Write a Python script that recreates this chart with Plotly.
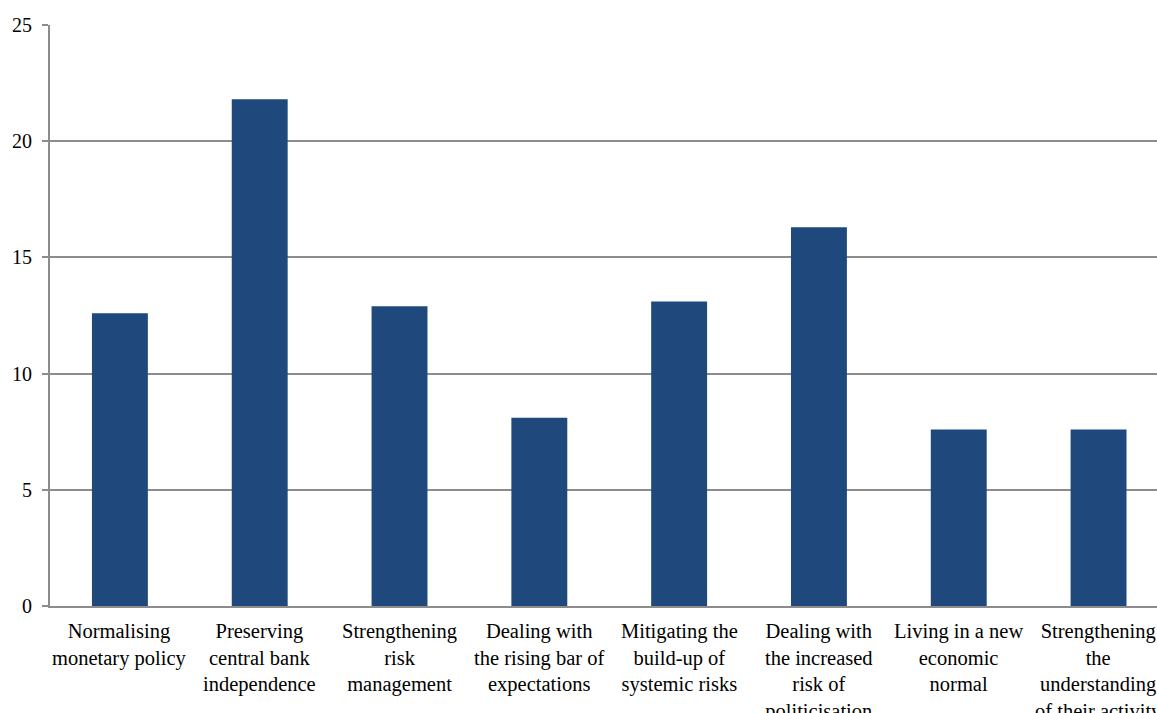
import plotly.graph_objects as go

categories = [
    "Normalising<br>monetary policy",
    "Preserving<br>central bank<br>independence",
    "Strengthening<br>risk<br>management",
    "Dealing with<br>the rising bar of<br>expectations",
    "Mitigating the<br>build-up of<br>systemic risks",
    "Dealing with<br>the increased<br>risk of<br>politicisation",
    "Living in a new<br>economic<br>normal",
    "Strengthening<br>the<br>understanding<br>of their activity",
]
values = [12.6, 21.8, 12.9, 8.1, 13.1, 16.3, 7.6, 7.6]
y_ticks = [0, 5, 10, 15, 20, 25]

grid = "#8c8c8c"
serif = "Liberation Serif"
positions = list(range(len(categories)))

fig = go.Figure(
    go.Bar(
        x=positions,
        y=values,
        width=0.4,
        marker=dict(color="#1f497d", line=dict(width=0)),
    )
)

fig.update_layout(
    width=1157,
    height=713,
    margin=dict(l=50, r=0, t=25, b=107, autoexpand=False),
    paper_bgcolor="white",
    plot_bgcolor="white",
    showlegend=False,
)
fig.update_xaxes(
    range=[-0.5, 7.418],
    showgrid=False,
    showline=True,
    linecolor=grid,
    linewidth=2,
    ticks="",
    showticklabels=False,
    automargin=False,
    zeroline=False,
)
fig.update_yaxes(
    range=[0, 25],
    tickmode="array",
    tickvals=y_ticks,
    showgrid=True,
    gridcolor=grid,
    gridwidth=2,
    showline=True,
    linecolor=grid,
    linewidth=2,
    ticks="outside",
    ticklen=6,
    tickwidth=2,
    tickcolor=grid,
    showticklabels=False,
    automargin=False,
    zeroline=False,
)

# category labels under each bar
for pos, label in zip(positions, categories):
    fig.add_annotation(
        x=pos, xref="x", y=0, yref="paper",
        text=label, showarrow=False,
        xanchor="center", yanchor="top", yshift=-12,
        align="center",
        font=dict(family=serif, size=20.5, color="black"),
    )

# y tick labels
for v in y_ticks:
    fig.add_annotation(
        x=0, xref="paper", y=v, yref="y",
        text=str(v), showarrow=False,
        xanchor="right", yanchor="middle", xshift=-16,
        font=dict(family=serif, size=20, color="black"),
    )

fig.write_html("out.html")
